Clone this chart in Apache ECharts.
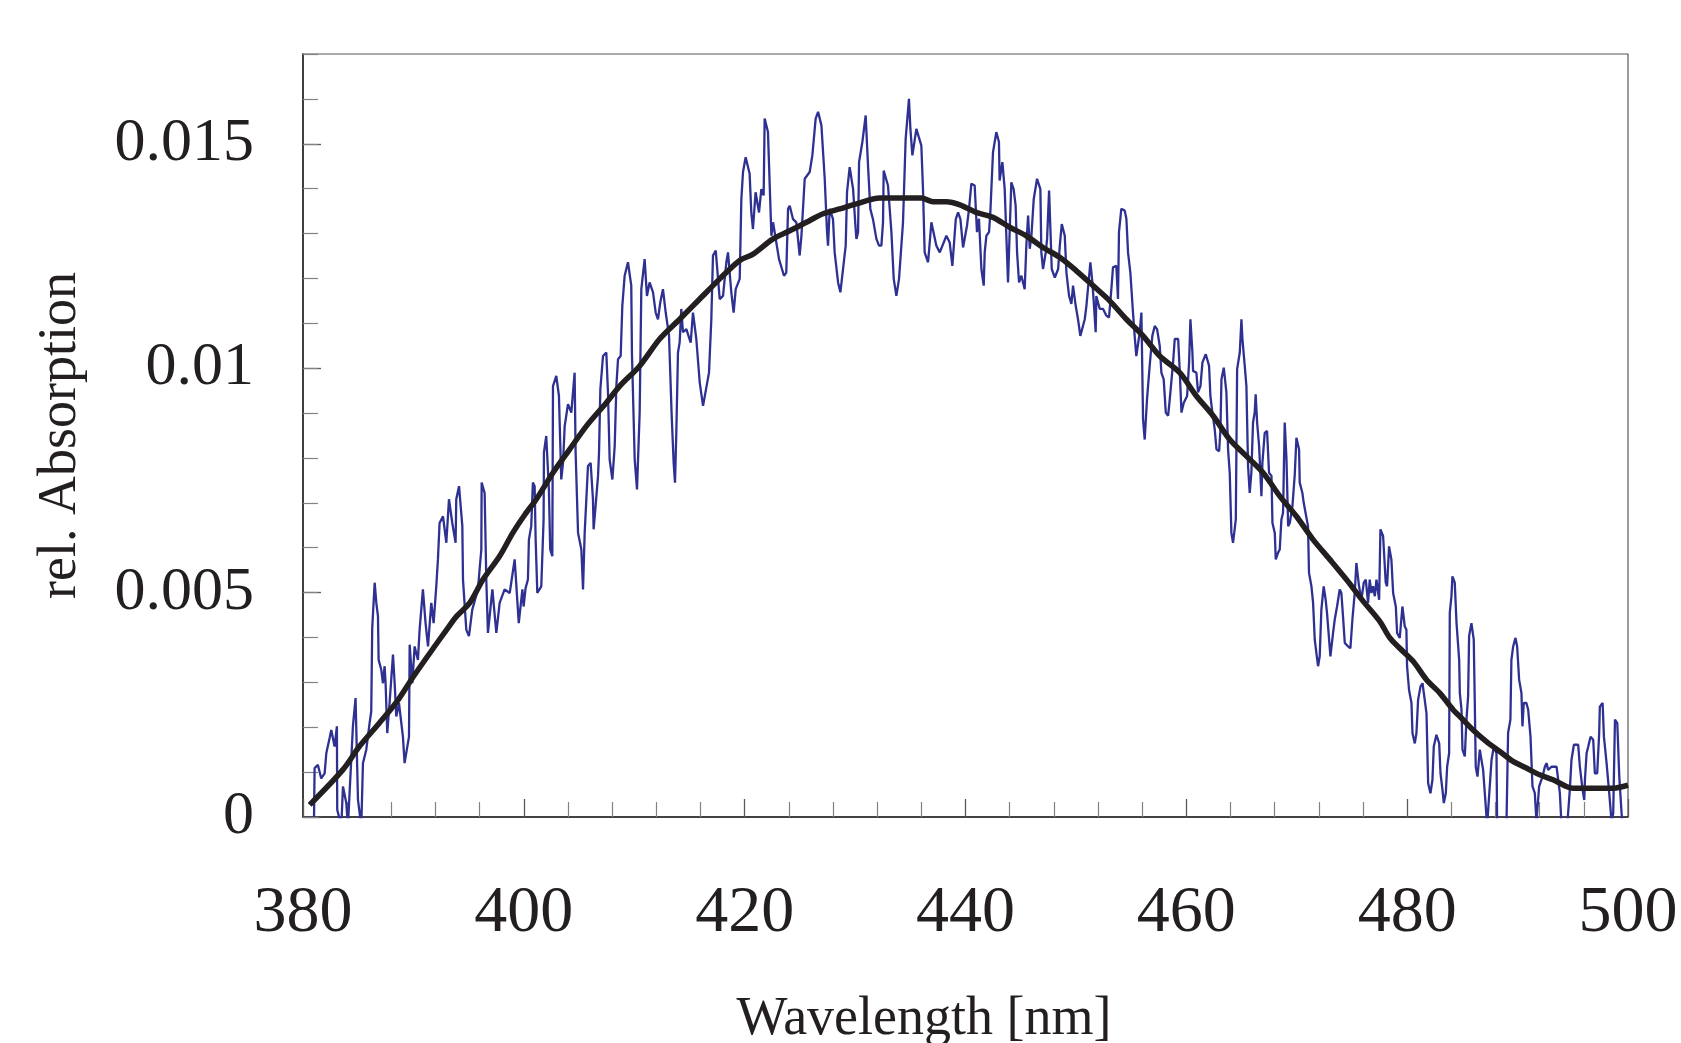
<!DOCTYPE html>
<html><head><meta charset="utf-8">
<script src="https://cdn.jsdelivr.net/npm/echarts@6/dist/echarts.min.js"></script>
<style>html,body{margin:0;padding:0;background:#fff}#c{width:1681px;height:1043px}</style>
</head><body><div id="c"></div>
<script>
// Measured (noisy) spectrum: wavelength [nm]
const rawWavelength = [
381.0,381.05,381.35,381.65,381.96,382.11,382.41,382.56,382.86,383.07,383.10,383.47,383.62,383.92,384.07,384.52,384.76,384.98,385.28,385.43,
385.73,386.03,386.18,386.27,386.49,386.64,386.79,386.85,387.09,387.24,387.39,387.48,387.63,387.84,387.99,388.15,388.30,388.45,388.69,389.05,
389.20,389.60,389.66,389.90,390.11,390.41,390.56,390.86,391.10,391.32,391.62,391.83,392.07,392.22,392.37,392.68,392.98,393.22,393.52,393.82,
393.88,394.13,394.43,394.49,394.79,395.03,395.33,395.84,396.15,396.18,396.45,396.60,396.75,397.15,397.51,397.81,398.26,398.72,399.17,399.54,
399.87,399.98,400.16,400.37,400.46,400.67,400.82,400.98,401.07,401.22,401.58,401.79,401.82,402.03,402.27,402.39,402.58,402.64,402.94,403.18,
403.39,403.55,403.70,404.00,404.30,404.60,404.69,404.91,405.21,405.36,405.51,405.81,406.05,406.26,406.32,406.50,406.72,406.81,406.93,407.17,
407.47,407.62,407.77,408.02,408.23,408.38,408.53,408.77,408.92,409.13,409.43,409.73,409.79,410.04,410.25,410.49,410.64,410.94,411.15,411.39,
411.70,411.94,412.15,412.36,412.60,412.85,413.15,413.39,413.57,413.69,413.81,413.96,414.11,414.26,414.41,414.72,415.11,415.32,415.62,415.93,
416.23,416.77,416.98,417.13,417.38,417.74,418.04,418.34,418.49,418.79,419.00,419.19,419.55,
419.70,419.85,420.09,420.45,420.60,420.75,420.99,421.30,421.51,421.72,421.81,422.11,422.42,422.57,423.11,423.56,423.77,423.93,424.08,424.38,
424.68,424.98,425.14,425.44,425.89,426.13,426.43,426.65,426.95,427.25,427.46,427.55,427.70,428.00,428.15,428.46,428.67,428.91,429.15,429.27,
429.51,429.82,430.03,430.12,430.27,430.36,430.66,430.96,431.17,431.38,431.62,431.93,432.17,432.38,432.53,432.59,432.98,433.29,433.50,433.74,
433.98,434.34,434.58,434.88,435.01,435.19,435.55,436.00,436.15,436.30,436.61,436.91,437.36,437.67,438.27,438.57,438.81,439.12,439.33,439.54,
439.78,439.93,440.14,440.32,440.53,440.83,441.04,441.22,441.44,441.65,441.74,441.89,442.13,442.25,442.49,442.79,443.03,443.09,443.34,443.55,
443.70,443.85,444.00,444.15,444.36,444.54,444.67,444.85,445.06,445.36,445.51,445.67,445.82,445.97,446.18,446.48,446.78,446.87,447.02,447.27,
447.39,447.57,447.69,447.81,448.09,448.39,448.54,448.72,448.99,449.14,449.38,449.59,449.74,449.98,450.19,450.40,450.80,450.95,451.31,451.49,
451.61,451.79,451.85,452.00,452.16,452.46,452.76,453.00,453.21,453.36,453.66,453.81,453.90,454.11,454.42,454.57,454.72,454.93,455.17,455.32,
455.47,455.78,455.93,456.08,456.23,456.44,456.68,456.92,457.14,457.35,457.59,457.74,457.95,458.14,458.35,458.50,458.80,458.95,459.26,459.41,
459.56,459.77,
460.07,460.25,460.37,460.55,460.61,460.91,461.06,461.28,461.46,461.76,462.06,462.18,462.36,462.57,462.73,462.97,463.09,463.18,463.39,463.63,
463.78,463.93,464.08,464.23,464.48,464.60,464.84,464.99,465.08,465.29,465.44,465.59,465.74,465.89,466.04,466.19,466.28,466.41,466.59,466.80,
466.89,467.10,467.31,467.49,467.71,467.80,468.01,468.10,468.31,468.46,468.61,468.76,468.91,469.07,469.22,469.37,469.61,469.82,469.97,470.21,
470.27,470.51,470.63,470.81,471.02,471.11,471.33,471.48,471.63,471.78,471.93,472.08,472.23,472.44,472.62,472.74,473.05,473.29,473.44,473.65,
473.89,474.04,474.19,474.35,474.65,474.86,475.04,475.25,475.40,475.64,475.86,476.07,476.25,476.46,476.61,476.76,476.91,477.07,477.22,477.46,
477.58,477.82,478.06,478.18,478.36,478.57,478.73,478.97,479.09,479.33,479.57,
479.78,479.93,479.99,480.17,480.39,480.48,480.69,480.84,480.99,481.21,481.39,481.51,481.75,481.90,482.11,482.29,482.41,482.65,482.90,483.02,
483.20,483.32,483.50,483.62,483.80,483.86,484.01,484.10,484.31,484.47,484.71,484.77,484.92,485.01,485.22,485.37,485.52,485.61,485.82,486.03,
486.12,486.21,486.37,486.58,486.73,486.88,487.12,487.24,487.42,487.64,487.85,488.09,488.15,488.99,489.14,489.35,489.44,489.60,489.81,489.96,
490.14,490.35,490.44,490.56,490.80,490.96,491.17,491.35,491.56,491.71,491.95,492.26,492.47,492.62,492.77,493.07,493.22,493.53,493.83,493.98,
494.49,494.73,494.88,495.10,495.49,495.64,495.89,496.04,496.10,496.25,496.40,496.61,496.85,497.00,497.21,497.39,497.45,497.70,497.82,498.06,
498.30,498.51,498.66,498.82,499.03,499.21,499.42,499.52
];
// Measured (noisy) spectrum: relative absorption
const rawAbsorption = [
0.0,0.00109,0.00116,0.00086,0.00097,0.00142,0.00176,0.00194,0.00157,0.00202,0.00016,-0.0002,0.00068,0.00031,-0.0002,0.00202,0.00265,0.00038,-0.0002,0.0012,
0.0015,0.00209,0.00235,0.00421,0.00522,0.00477,0.00447,0.0035,0.00328,0.00298,0.00336,0.00298,0.00187,0.00254,0.00306,0.00362,0.00298,0.00224,0.00254,0.00179,
0.0012,0.00179,0.00384,0.00298,0.0038,0.0035,0.00417,0.00507,0.00432,0.0038,0.00477,0.00432,0.00514,0.00574,0.00655,0.0067,0.00611,0.00708,0.00655,0.00611,
0.00708,0.00737,0.00648,0.00529,0.00417,0.00403,0.00462,0.00507,0.00596,0.00745,0.00722,0.00529,0.0041,0.00507,0.0041,0.00477,0.00507,0.00499,0.00574,0.00432,
0.00507,0.00469,0.0051,0.00529,0.00618,0.00648,0.00745,0.00737,0.00618,0.00499,0.00514,0.00663,0.00812,0.00849,0.0073,0.00596,0.00581,0.0096,0.00983,0.00938,
0.00752,0.00789,0.00871,0.0092,0.00901,0.0099,0.00812,0.00633,0.00596,0.00507,0.00633,0.00782,0.00789,0.00708,0.00641,0.00693,0.0076,0.00812,0.00953,0.01027,
0.01035,0.00946,0.00797,0.00752,0.00827,0.0096,0.0102,0.01027,0.01139,0.01206,0.01236,0.01184,0.01035,0.00797,0.0073,0.00901,0.01176,0.01243,0.01161,0.01191,
0.01169,0.01124,0.01109,0.01147,0.01176,0.01124,0.01072,0.00894,0.00789,0.00745,0.00856,0.01035,0.01057,0.01132,0.0108,0.01087,0.01057,0.01124,0.01065,0.00968,
0.00916,0.0099,0.01109,0.01251,0.01262,0.01154,0.01161,0.01236,0.01258,0.01169,0.01124,0.01176,0.01199,
0.01377,0.01437,0.0147,0.01433,0.01347,0.0131,0.01392,0.01347,0.01399,0.01385,0.01556,0.01526,0.01295,0.01325,0.01243,0.01206,0.01213,0.01355,0.01362,0.01332,
0.01325,0.01251,0.01295,0.01422,0.01437,0.01474,0.01556,0.01571,0.01541,0.01422,0.01303,0.01273,0.01355,0.01332,0.01258,0.01191,0.01169,0.01221,0.01273,0.01392,
0.01448,0.01399,0.01318,0.01288,0.01303,0.01459,0.01504,0.01563,0.01452,0.01355,0.01332,0.01288,0.01273,0.01273,0.01325,0.0144,0.01407,0.01303,0.01199,0.01161,
0.01199,0.01325,0.01511,0.016,0.01533,0.01474,0.01533,0.01496,0.01399,0.01258,0.01236,0.01325,0.01273,0.01258,0.01295,0.0128,0.01228,0.01332,0.01347,0.01332,
0.01269,0.01266,0.01318,0.01355,0.01411,0.01407,0.01303,0.01333,0.01221,0.01184,0.01258,0.01295,0.01303,0.01347,0.01481,0.01526,0.01504,0.01418,0.01459,0.01399,
0.01295,0.01191,0.01303,0.01414,0.01399,0.01362,0.01258,0.01191,0.01206,0.01176,0.01273,0.0134,0.01266,0.01295,0.01377,0.01422,0.01399,0.01258,0.01221,0.01258,
0.01288,0.01396,0.0131,0.01221,0.01202,0.01221,0.01273,0.01321,0.01295,0.01213,0.01161,0.01143,0.01184,0.01139,0.01109,0.01072,0.01109,0.01139,0.01236,0.01191,
0.0115,0.0108,0.01161,0.01146,0.01132,0.01132,0.01117,0.01113,0.01176,0.01225,0.01228,0.01154,0.01303,0.01355,0.01351,0.01333,0.01258,0.01213,0.01124,0.01072,
0.01027,0.0108,0.01124,0.00886,0.00841,0.00931,0.01005,0.01072,0.01094,0.01087,0.0105,0.0099,0.00975,0.00901,0.00894,0.00931,0.01013,0.01065,0.01065,0.0099,
0.00901,0.00923,
0.00938,0.01013,0.01109,0.01035,0.00994,0.0099,0.00946,0.0096,0.01013,0.01031,0.01005,0.00938,0.00901,0.00864,0.00819,0.00815,0.00864,0.00975,0.01001,0.00946,
0.00819,0.00767,0.00633,0.00611,0.00663,0.00998,0.01035,0.01109,0.01065,0.01005,0.0096,0.00782,0.00722,0.00767,0.00879,0.00901,0.00942,0.00879,0.00827,0.00715,
0.00789,0.00856,0.0086,0.00767,0.0076,0.00655,0.00633,0.00574,0.00589,0.00596,0.00663,0.00678,0.00879,0.00797,0.00648,0.00655,0.00693,0.00763,0.00845,0.00819,
0.00745,0.00722,0.007,0.007,0.00648,0.00544,0.00514,0.00477,0.00395,0.00365,0.00336,0.00358,0.00462,0.00514,0.00484,0.00455,0.00358,0.0041,0.0044,0.00469,
0.00507,0.00499,0.00447,0.00388,0.0038,0.00376,0.0044,0.00499,0.00566,0.00514,0.00484,0.00522,0.00529,0.00477,0.00529,0.00499,0.00514,0.00492,0.00529,0.00484,
0.00641,0.00626,0.00522,0.00514,0.00603,0.00574,0.00499,0.00469,0.0041,0.00399,0.00469,
0.00425,0.00417,0.00336,0.00283,0.00254,0.00187,0.00164,0.00187,0.00261,0.00291,0.00298,0.00276,0.00231,0.00075,0.00053,0.00083,0.00157,0.00183,0.00164,0.00097,
0.0006,0.00031,0.00053,0.00112,0.00142,0.00455,0.00492,0.00536,0.00522,0.00432,0.0035,0.00276,0.00239,0.0015,0.00135,0.00217,0.00269,0.00403,0.00432,0.00395,
0.00261,0.00112,0.0009,0.0015,0.00127,0.00105,0.00023,-0.0002,-0.0002,0.00127,0.00157,0.00142,-0.0002,-0.0002,0.00187,0.00217,0.0035,0.0038,0.00399,0.0038,
0.00306,0.00276,0.00202,0.00254,0.00254,0.00239,0.00179,0.00068,0.00053,-0.0001,0.00068,0.0009,0.00112,0.0012,0.00105,0.00112,0.00116,0.00112,0.00053,-0.0002,
-0.0002,0.0006,0.00127,0.00161,0.00161,0.00112,0.0006,0.00038,0.00083,0.00142,0.00157,0.00179,0.00172,0.00097,0.00097,0.00187,0.00246,0.00254,0.00179,0.0012,
0.00053,-0.0001,0.00008,0.00217,0.00209,0.0009,0.00008,-0.0002
];
// Smoothed fit curve
const fitWavelength = [380.6,383.6,385.1,386.9,388.5,390.0,391.8,393.0,393.9,395.1,396.3,397.8,399.0,400.1,401.13,402.64,404.15,405.66,407.47,408.68,
410.49,412.3,414.11,415.93,417.74,419.55,420.76,422.57,424.08,425.59,427.1,428.61,430.12,432.23,436.0,437.06,438.27,439.5,440.98,442.49,
444.0,445.51,447.02,448.53,450.04,451.55,453.06,454.57,456.08,457.59,459.4,460.91,462.42,463.93,465.44,466.95,468.46,469.97,471.48,472.99,
474.5,476.01,477.52,478.43,479.33,480.54,481.75,482.96,484.16,484.77,485.97,487.18,488.39,489.59,490.8,492.0,493.21,494.42,495.03,498.65,499.55,500.0];
const fitAbsorption = [0.00027,0.00105,0.00157,0.00209,0.00257,0.00313,0.00376,0.00417,0.00447,0.00477,0.00529,0.00581,0.00633,0.00674,0.00708,0.00767,0.00819,0.00871,0.00923,0.0096,
0.01005,0.01065,0.01109,0.01154,0.01199,0.0124,0.01254,0.01288,0.01306,0.01325,0.01344,0.01355,0.01366,0.01379,0.01379,0.01371,0.01371,0.01364,0.01347,0.01336,
0.01314,0.01295,0.01269,0.01247,0.01217,0.01184,0.0115,0.01109,0.01072,0.01027,0.0099,0.00938,0.00894,0.00841,0.00804,0.00767,0.00715,0.0067,0.00618,0.00574,
0.00529,0.00481,0.00436,0.00399,0.00376,0.00347,0.00306,0.00276,0.00239,0.00224,0.00194,0.00168,0.00146,0.00124,0.00109,0.00094,0.00083,0.00068,0.00064,0.00064,0.00068,0.00071];

const xRange = [380, 500];
const yRange = [0, 0.017];

const serif = 'Liberation Serif';
const ink = '#231f20';
const chart = echarts.init(document.getElementById('c'));
chart.setOption({
  animation: false,
  backgroundColor: '#ffffff',
  grid: { left: 303, right: 53, top: 54, bottom: 226, show: true, borderColor: '#58595b', borderWidth: 1.2,
          containLabel: false, outerBoundsMode: 'none' },
  xAxis: {
    type: 'value', min: xRange[0], max: xRange[1], interval: 20,
    axisLine: { onZero: false, lineStyle: { color: ink, width: 1.5 } },
    axisTick: { inside: true, length: 18, lineStyle: { color: '#58595b', width: 1.3 } },
    minorTick: { show: true, splitNumber: 5, length: 15, lineStyle: { color: '#808285', width: 1.2 } },
    splitLine: { show: false }, minorSplitLine: { show: false },
    axisLabel: { fontFamily: serif, fontSize: 66, color: ink, margin: 64 },
    name: 'Wavelength [nm]', nameLocation: 'middle', nameGap: 176,
    nameTextStyle: { fontFamily: serif, fontSize: 54, color: ink, padding: [0, 83, 0, 0] }
  },
  yAxis: [{
    type: 'value', min: yRange[0], max: yRange[1], interval: 0.005, position: 'left',
    axisLine: { show: true, lineStyle: { color: ink, width: 1.5 } },
    axisTick: { inside: true, length: 18, lineStyle: { color: '#58595b', width: 1.3 } },
    splitLine: { show: false },
    axisLabel: { fontFamily: serif, fontSize: 62, color: ink, margin: 49, showMaxLabel: false },
    name: 'rel. Absorption', nameLocation: 'middle', nameGap: 215,
    nameTextStyle: { fontFamily: serif, fontSize: 54, color: ink }
  }, {
    type: 'value', min: yRange[0], max: yRange[1], interval: 0.001, position: 'left',
    axisLine: { show: false },
    axisTick: { inside: true, length: 15, lineStyle: { color: '#808285', width: 1.2 } },
    splitLine: { show: false },
    axisLabel: { show: false }
  }],
  series: [{
    type: 'line', name: 'measured', xAxisIndex: 0, yAxisIndex: 0, showSymbol: false, clip: true,
    lineStyle: { color: '#2e3192', width: 2.3 },
    data: rawWavelength.map((x, i) => [x, rawAbsorption[i]]), z: 2
  }, {
    type: 'line', name: 'fit', xAxisIndex: 0, yAxisIndex: 0, showSymbol: false, smooth: 0.3, clip: true,
    lineStyle: { color: ink, width: 5.5 },
    data: fitWavelength.map((x, i) => [x, fitAbsorption[i]]), z: 3
  }]
});
</script>
</body></html>
